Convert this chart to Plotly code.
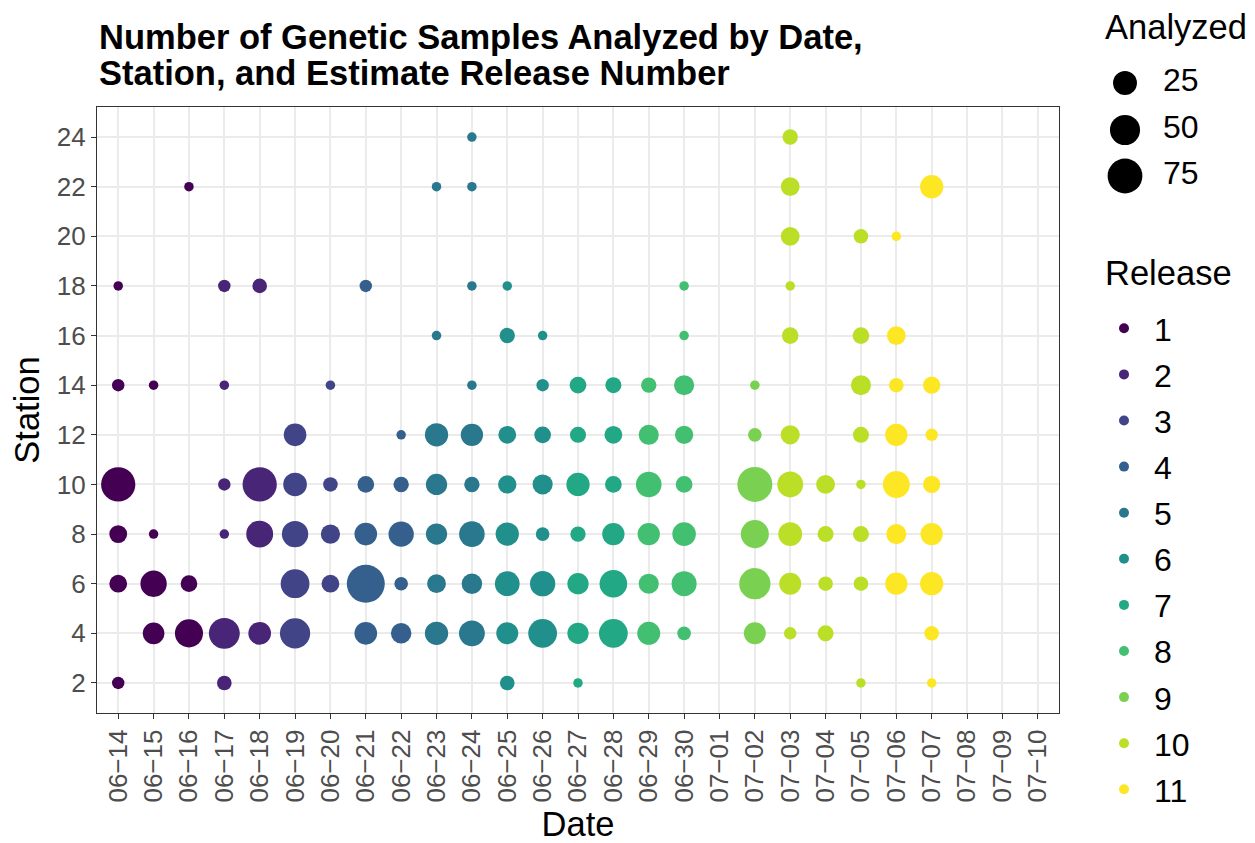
import numpy as np
import plotly.graph_objects as go

# ---------------- data ----------------
all_dates = ["06-14", "06-15", "06-16", "06-17", "06-18", "06-19", "06-20", "06-21",
             "06-22", "06-23", "06-24", "06-25", "06-26", "06-27", "06-28", "06-29",
             "06-30", "07-01", "07-02", "07-03", "07-04", "07-05", "07-06", "07-07",
             "07-08", "07-09", "07-10"]

release_dates = ["06-14", "06-15", "06-16", "06-17", "06-18", "06-19", "06-20", "06-21",
                 "06-22", "06-23", "06-24", "06-25", "06-26", "06-27", "06-28", "06-29",
                 "06-30", "07-02", "07-03", "07-04", "07-05", "07-06", "07-07"]
release_numbers = [1, 1, 1, 2, 2, 3, 3, 4, 4, 5, 5, 6, 6, 7, 7, 8, 8, 9, 10, 10, 10, 11, 11]

date = (["06-14"] * 6 + ["06-15"] * 4 + ["06-16"] * 3 + ["06-17"] * 6 + ["06-18"] * 4 +
        ["06-19"] * 5 + ["06-20"] * 4 + ["06-21"] * 5 + ["06-22"] * 5 + ["06-23"] * 7 +
        ["06-24"] * 9 + ["06-25"] * 8 + ["06-26"] * 7 + ["06-27"] * 7 + ["06-28"] * 6 +
        ["06-29"] * 6 + ["06-30"] * 8 + ["07-02"] * 6 + ["07-03"] * 10 + ["07-04"] * 4 +
        ["07-05"] * 8 + ["07-06"] * 7 + ["07-07"] * 8)

station = [18, 14, 10, 8, 6, 2,
           14, 8, 6, 4,
           22, 6, 4,
           18, 14, 10, 8, 4, 2,
           18, 10, 8, 4,
           12, 10, 8, 6, 4,
           14, 10, 8, 6,
           18, 10, 8, 6, 4,
           12, 10, 8, 6, 4,
           22, 16, 12, 10, 8, 6, 4,
           24, 22, 18, 14, 12, 10, 8, 6, 4,
           18, 16, 12, 10, 8, 6, 4, 2,
           16, 14, 12, 10, 8, 6, 4,
           14, 12, 10, 8, 6, 4, 2,
           14, 12, 10, 8, 6, 4,
           14, 12, 10, 8, 6, 4,
           18, 16, 14, 12, 10, 8, 6, 4,
           14, 12, 10, 8, 6, 4,
           24, 22, 20, 18, 16, 12, 10, 8, 6, 4,
           10, 8, 6, 4,
           20, 16, 14, 12, 10, 8, 6, 2,
           20, 16, 14, 12, 10, 8, 6,
           22, 14, 12, 10, 8, 6, 4, 2]

analyzed = [1, 2, 72, 9, 9, 2,
            1, 1, 34, 18,
            1, 7, 41,
            2, 1, 2, 1, 54, 4,
            4, 72, 36, 21,
            21, 24, 34, 44, 51,
            1, 4, 12, 9,
            2, 7, 21, 95, 21,
            1, 5, 30, 3, 15,
            1, 1, 23, 17, 17, 11, 23,
            1, 1, 1, 1, 20, 5, 31, 15, 32,
            1, 5, 9, 10, 23, 28, 19, 4,
            1, 2, 7, 14, 3, 30, 44,
            7, 6, 23, 5, 17, 17, 1,
            6, 9, 7, 20, 39, 44,
            5, 14, 31, 20, 14, 22,
            1, 1, 14, 10, 7, 24, 29, 3,
            1, 3, 76, 41, 56, 19,
            5, 11, 11, 1, 7, 12, 32, 25, 19, 2,
            11, 6, 4, 6,
            4, 7, 14, 6, 1, 6, 4, 1,
            1, 11, 4, 20, 36, 14, 20,
            23, 8, 2, 8, 20, 23, 4, 1]

size_breaks = [25, 50, 75]
release_levels = list(range(1, 12))
viridis11 = ["#440154", "#482576", "#414487", "#35608D", "#2A788E", "#21908C",
             "#22A884", "#43BF71", "#7AD151", "#BBDF27", "#FDE725"]

# ---------------- scales ----------------
D_MIN, D_MAX = 9.5, 38.0
v_min, v_max = min(analyzed), max(analyzed)


def diam(v):
    v = np.asarray(v, dtype=float)
    return D_MIN + (D_MAX - D_MIN) * np.sqrt((v - v_min) / (v_max - v_min))


rel_of = dict(zip(release_dates, release_numbers))
rel = [rel_of[d] for d in date]

FONT = "Liberation Sans, Arial, Helvetica, sans-serif"
TITLE_SIZE = 34.5
LABEL_SIZE = 32
OFF = 8  # page body margin
W, H = 1255 - OFF, 843 - OFF
ML, MR, MT, MB = 97 - OFF, 5, 5, 130
PW, PH = W - ML - MR, H - MT - MB


def px_x(px):
    return (px - OFF - ML) / PW


def px_y(py):
    return (H - MB - (py - OFF)) / PH


fig = go.Figure()

for r, col in zip(release_levels, viridis11):
    idx = [i for i, rr in enumerate(rel) if rr == r]
    fig.add_trace(go.Scatter(
        x=[date[i] for i in idx], y=[station[i] for i in idx],
        mode="markers",
        marker=dict(color=col, size=diam([analyzed[i] for i in idx]),
                    sizemode="diameter", line=dict(width=0), opacity=1),
        name=str(r), legendgroup=str(r), showlegend=False,
        hovertemplate="Date %{x}<br>Station %{y}<extra></extra>"))

# release legend entries
for r, col in zip(release_levels, viridis11):
    fig.add_trace(go.Scatter(
        x=[None], y=[None], mode="markers",
        marker=dict(color=col, size=10, line=dict(width=0), opacity=1),
        name=str(r), legendgroup=str(r), showlegend=True))

# size legend (Analyzed) drawn on its own hidden axes, in pixel units
leg_cx = 1125
leg_cy = [83, 130, 176]
fig.add_trace(go.Scatter(
    x=[leg_cx] * len(size_breaks), y=leg_cy, xaxis="x2", yaxis="y2",
    mode="markers",
    marker=dict(color="black", size=diam(size_breaks), sizemode="diameter",
                line=dict(width=0), opacity=1),
    showlegend=False, hoverinfo="skip"))
fig.add_trace(go.Scatter(
    x=[1163] * len(size_breaks), y=leg_cy, xaxis="x2", yaxis="y2",
    mode="text", text=[str(b) for b in size_breaks], textposition="middle right",
    textfont=dict(family=FONT, size=LABEL_SIZE, color="black"),
    showlegend=False, hoverinfo="skip"))

axis_common = dict(
    showline=True, linecolor="#333333", linewidth=1.3, mirror=True,
    ticks="outside", ticklen=5, tickwidth=1.3, tickcolor="#333333",
    showgrid=True, gridcolor="#EBEBEB", gridwidth=1.8, zeroline=False,
    tickfont=dict(family=FONT, size=26, color="#4D4D4D"),
)

fig.update_layout(
    width=W, height=H,
    margin=dict(l=ML, r=MR, t=MT, b=MB, autoexpand=False),
    paper_bgcolor="white", plot_bgcolor="white",
    font=dict(family=FONT, color="black"),
    xaxis=dict(
        **axis_common,
        type="category", categoryorder="array", categoryarray=all_dates,
        tickmode="array", tickvals=all_dates,
        ticktext=[d.replace("-", "\u2212") for d in all_dates],
        tickangle=-90, range=[-0.6, len(all_dates) - 0.4],
        domain=[0, px_x(1059)],
        title=dict(text="Date", font=dict(family=FONT, size=TITLE_SIZE, color="black"),
                   standoff=16),
    ),
    yaxis=dict(
        **axis_common,
        range=[0.79, 25.21], tickmode="array", tickvals=list(range(2, 25, 2)),
        domain=[0, px_y(107)],
        title=dict(text="Station", font=dict(family=FONT, size=TITLE_SIZE, color="black"),
                   standoff=11),
    ),
    xaxis2=dict(domain=[px_x(1100), 1.0], range=[1100, ML + PW + OFF], visible=False,
                showgrid=False, zeroline=False, fixedrange=True, anchor="y2"),
    yaxis2=dict(domain=[px_y(200), px_y(55)], range=[200, 55], visible=False,
                showgrid=False, zeroline=False, fixedrange=True, anchor="x2"),
    legend=dict(
        font=dict(family=FONT, size=LABEL_SIZE, color="black"),
        x=px_x(1094), y=px_y(301), xanchor="left", yanchor="top",
        tracegroupgap=1.5, itemwidth=50, bgcolor="rgba(0,0,0,0)",
        itemclick=False, itemdoubleclick=False,
    ),
    annotations=[
        dict(text="<b>Number of Genetic Samples Analyzed by Date,</b>",
             x=0, y=px_y(37), xref="paper", yref="paper", xanchor="left",
             yanchor="middle", showarrow=False,
             font=dict(family=FONT, size=TITLE_SIZE, color="black")),
        dict(text="<b>Station, and Estimate Release Number</b>",
             x=0, y=px_y(73), xref="paper", yref="paper", xanchor="left",
             yanchor="middle", showarrow=False,
             font=dict(family=FONT, size=TITLE_SIZE, color="black")),
        dict(text="Analyzed", x=px_x(1103), y=px_y(27), xref="paper", yref="paper",
             xanchor="left", yanchor="middle", showarrow=False,
             font=dict(family=FONT, size=TITLE_SIZE, color="black")),
        dict(text="Release", x=px_x(1103), y=px_y(273), xref="paper", yref="paper",
             xanchor="left", yanchor="middle", showarrow=False,
             font=dict(family=FONT, size=TITLE_SIZE, color="black")),
    ],
)

fig.write_html("out.html")
